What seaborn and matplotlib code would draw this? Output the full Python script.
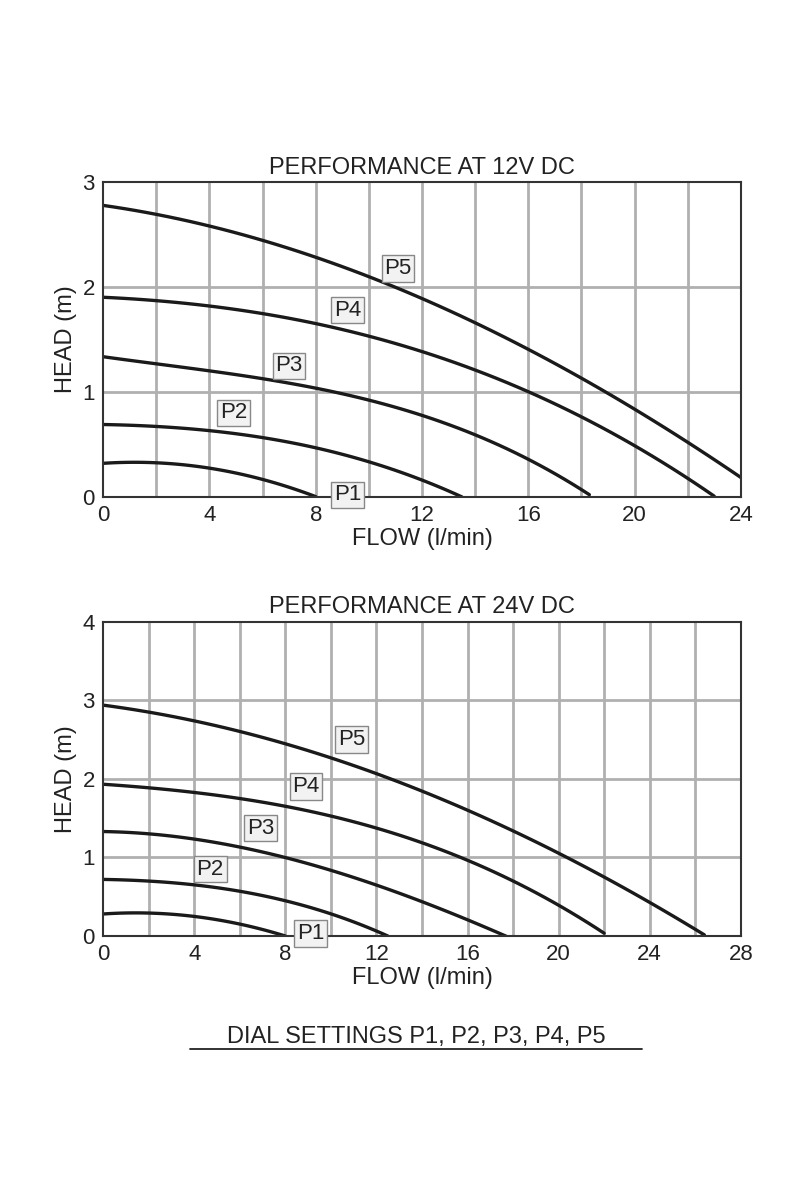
import matplotlib
matplotlib.use("Agg")
import matplotlib.pyplot as plt
import seaborn as sns
import numpy as np
import pandas as pd

sns.set_style("white")
plt.rcParams['font.family'] = ['Liberation Sans', 'DejaVu Sans']

series_names = ["P1", "P2", "P3", "P4", "P5"]
top_flow = {
    "P1": [0, 4, 6, 8],
    "P2": [0, 4, 8, 11, 13.5],
    "P3": [0, 4, 8, 12, 16, 18.3],
    "P4": [0, 4, 8, 12, 16, 20, 23],
    "P5": [0, 4, 8, 12, 16, 20, 24],
}
top_head = {
    "P1": [0.32, 0.27, 0.17, 0.0],
    "P2": [0.69, 0.63, 0.47, 0.25, 0.0],
    "P3": [1.33, 1.22, 1.03, 0.75, 0.40, 0.0],
    "P4": [1.90, 1.83, 1.65, 1.38, 1.00, 0.50, 0.0],
    "P5": [2.78, 2.58, 2.30, 1.88, 1.40, 0.85, 0.18],
}
top_labels = {"P5": (11.1, 2.18), "P4": (9.2, 1.78), "P3": (7.0, 1.25), "P2": (4.9, 0.80), "P1": (9.2, 0.02)}

bot_flow = {
    "P1": [0, 4, 6, 8],
    "P2": [0, 4, 8, 10, 12.5],
    "P3": [0, 4, 8, 12, 16, 17.7],
    "P4": [0, 4, 8, 12, 16, 20, 22],
    "P5": [0, 4, 8, 12, 16, 20, 24, 26.4],
}
bot_head = {
    "P1": [0.28, 0.25, 0.15, 0.0],
    "P2": [0.72, 0.65, 0.45, 0.28, 0.0],
    "P3": [1.33, 1.23, 1.00, 0.65, 0.20, 0.0],
    "P4": [1.92, 1.85, 1.65, 1.35, 0.95, 0.45, 0.0],
    "P5": [2.93, 2.75, 2.45, 2.05, 1.60, 1.05, 0.45, 0.0],
}
bot_labels = {"P5": (10.9, 2.5), "P4": (8.9, 1.9), "P3": (6.9, 1.37), "P2": (4.7, 0.85), "P1": (9.1, 0.03)}

fig = plt.figure(figsize=(8, 12), dpi=100)

def draw(ax, flows, heads, labels, xmax, ymax, title):
    for n in series_names:
        x = np.array(flows[n]); y = np.array(heads[n])
        xs = np.linspace(x.min(), x.max(), 60)
        c = np.polyfit(x, y, min(2 if n == "P1" else 3, len(x) - 1))
        ys = np.polyval(c, xs)
        df = pd.DataFrame({"flow": xs, "head": ys})
        sns.lineplot(data=df, x="flow", y="head", ax=ax, color="#1a1a1a", lw=2.4)
        lx, ly = labels[n]
        ax.text(lx, ly, n, fontsize=16, ha="center", va="center", color="#222",
                bbox=dict(boxstyle="square,pad=0.12", fc="#f2f2f2", ec="#888", lw=1))
    ax.set_xlim(0, xmax); ax.set_ylim(0, ymax)
    ax.set_xticks(np.arange(0, xmax + 1, 4))
    ax.set_yticks(np.arange(0, ymax + 1, 1))
    for gx in np.arange(2, xmax, 2):
        ax.axvline(gx, color="#b0b0b0", lw=2, zorder=0)
    for gy in np.arange(1, ymax, 1):
        ax.axhline(gy, color="#b0b0b0", lw=2, zorder=0)
    for s in ax.spines.values():
        s.set_color("#333"); s.set_linewidth(1.5)
    ax.tick_params(labelsize=16, length=0, pad=6, colors="#222")
    ax.set_xlabel("FLOW (l/min)", fontsize=17, color="#222", labelpad=1)
    ax.set_ylabel("HEAD (m)", fontsize=17, color="#222", labelpad=4)
    ax.set_title(title, fontsize=17, color="#222", pad=6)

ax1 = fig.add_axes([0.129, 0.586, 0.797, 0.262])
draw(ax1, top_flow, top_head, top_labels, 24, 3, "PERFORMANCE AT 12V DC")
ax2 = fig.add_axes([0.129, 0.22, 0.797, 0.262])
draw(ax2, bot_flow, bot_head, bot_labels, 28, 4, "PERFORMANCE AT 24V DC")

fig.text(0.52, 0.136, "DIAL SETTINGS P1, P2, P3, P4, P5", ha="center", va="center",
         fontsize=17, color="#222")
fig.add_artist(plt.Line2D([0.238, 0.802], [0.126, 0.126], color="#222", lw=1.3))

fig.savefig("out.png", dpi=100, facecolor="white")
